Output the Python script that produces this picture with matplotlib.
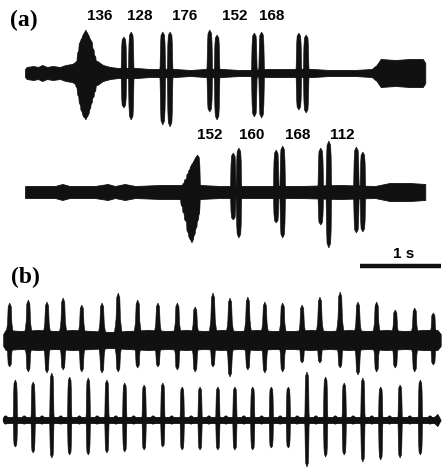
import numpy as np
import matplotlib.pyplot as plt
from matplotlib.patches import Ellipse

# ---- (a) upper trace: pulse times (s), peak amplitudes above / below baseline ----
a1_pulse_t = [0.96, 0.98, 1.00, 1.02, 1.04, 1.06, 1.08, 1.10, 1.12, 1.14, 1.16, 1.18,
              1.53, 1.62, 2.01, 2.10, 2.59, 2.68, 3.14, 3.23, 3.69, 3.78]
a1_pulse_up = [12, 22, 32, 36, 40, 43, 40, 36, 33, 25, 18, 10,
               36, 41, 41, 41, 43, 38, 40, 41, 40, 38]
a1_pulse_down = [15, 24, 33, 40, 45, 47, 44, 38, 32, 26, 20, 12,
                 35, 47, 52, 54, 39, 47, 44, 45, 37, 40]
a1_env_t = [0.31, 0.33, 0.41, 0.47, 0.52, 0.58, 0.65, 0.74, 0.81, 0.89, 0.95,
            1.20, 1.27, 1.36, 1.46, 1.69, 1.85, 1.95, 2.16, 2.35, 2.53, 2.74,
            2.96, 3.09, 3.31, 3.52, 3.64, 3.86, 4.07, 4.38, 4.59, 4.65, 4.70,
            4.88, 5.06, 5.22, 5.25]
a1_env_half = [4, 6, 7, 6, 8, 6, 7, 6, 8, 9, 12,
               12, 8, 6, 5, 5, 4, 4, 4, 3, 4, 4,
               3, 3, 4, 4, 4, 4, 3, 3, 4, 8, 14,
               13, 14, 14, 10]
a1_label_t = [1.23, 1.73, 2.28, 2.90, 3.35]
a1_labels = ["136", "128", "176", "152", "168"]

# ---- (a) lower trace ----
a2_pulse_t = [2.26, 2.28, 2.30, 2.33, 2.35, 2.37, 2.39, 2.41, 2.43, 2.44,
              2.88, 2.95, 3.41, 3.49, 3.96, 4.06, 4.40, 4.48]
a2_pulse_up = [5, 9, 13, 19, 23, 27, 30, 33, 36, 37, 39, 44, 42, 46, 44, 51, 45, 40]
a2_pulse_down = [15, 22, 30, 42, 48, 51, 45, 38, 30, 24, 28, 46, 31, 46, 33, 56, 41, 40]
a2_env_t = [0.31, 0.49, 0.68, 0.77, 0.86, 1.17, 1.33, 1.42, 1.54, 1.67, 1.98,
            2.20, 2.47, 2.72, 3.21, 3.70, 4.20, 4.63, 4.81, 5.06, 5.25]
a2_env_half = [6, 6, 6, 8, 6, 6, 8, 6, 8, 6, 7,
               7, 7, 6, 6, 6, 7, 6, 9, 9, 8]
a2_label_t = [2.59, 3.11, 3.68, 4.22]
a2_labels = ["152", "160", "168", "112"]

# ---- (b) upper trace ----
b1_pulse_t = [0.12, 0.35, 0.58, 0.78, 1.01, 1.26, 1.46, 1.70, 1.95, 2.19, 2.41, 2.63,
              2.84, 3.06, 3.27, 3.49, 3.73, 3.95, 4.20, 4.42, 4.65, 4.88, 5.12, 5.35]
b1_pulse_up = [37, 40, 38, 42, 35, 37, 47, 40, 37, 37, 33, 47,
               42, 43, 38, 37, 35, 43, 48, 38, 38, 30, 32, 27]
b1_pulse_down = [27, 32, 33, 30, 32, 33, 32, 28, 27, 30, 32, 27,
                 37, 30, 33, 32, 23, 23, 28, 35, 32, 28, 32, 25]
b1_env_t = [0.04, 0.07, 0.25, 0.47, 0.68, 0.90, 1.13, 1.36, 1.58, 1.83, 2.07, 2.30,
            2.52, 2.74, 2.95, 3.17, 3.38, 3.61, 3.84, 4.07, 4.31, 4.54, 4.77, 5.00,
            5.24, 5.40, 5.44]
b1_env_half = [6, 10, 9, 10, 9, 10, 9, 8, 9, 10, 9, 10,
               9, 10, 9, 10, 9, 9, 10, 9, 10, 9, 10, 9,
               10, 10, 6]

# ---- (b) lower trace ----
b2_pulse_t = [0.19, 0.41, 0.64, 0.86, 1.09, 1.32, 1.54, 1.78, 2.01, 2.25, 2.47, 2.69,
              2.90, 3.12, 3.35, 3.56, 3.79, 4.02, 4.25, 4.48, 4.70, 4.94, 5.19]
b2_pulse_up = [40, 38, 47, 43, 42, 40, 37, 35, 37, 33, 33, 33,
               33, 33, 33, 33, 48, 43, 37, 42, 33, 35, 40]
b2_pulse_down = [27, 33, 38, 35, 35, 33, 32, 30, 27, 30, 30, 30,
                 30, 30, 28, 28, 47, 37, 35, 42, 40, 38, 35]
b2_bead_t = [0.07, 0.30, 0.52, 0.75, 0.98, 1.20, 1.43, 1.65, 1.89, 2.12, 2.36, 2.58,
             2.79, 3.01, 3.23, 3.46, 3.67, 3.90, 4.14, 4.36, 4.59, 4.81, 5.06, 5.31]
b2_env_t = [0.04, 0.08, 5.36, 5.40, 5.44]
b2_env_half = [0, 3, 3, 6, 0]

INK = "#111111"
FIG_W, FIG_H = 443, 468          # pixels
T_MAX = 443 / 81                 # figure width in seconds (81 px per second)
HALF = 60                        # half-height of each trace strip (amplitude units)

# pulse outline: relative half-width vs relative height
COLUMN = (np.array([1.0, 0.85, 0.7, 0.55, 0.0]), np.array([0.0, 0.15, 0.7, 0.92, 1.0]))
SHOULDER = (np.array([1.0, 0.6, 0.45, 0.32, 0.0]), np.array([0.0, 0.3, 0.45, 0.9, 1.0]))


def trace_axes(fig, base_px):
    ax = fig.add_axes([0, 1 - (base_px + HALF) / FIG_H, 1, 2 * HALF / FIG_H])
    ax.set_xlim(0, T_MAX)
    ax.set_ylim(-HALF, HALF)
    ax.axis("off")
    ax.patch.set_alpha(0)
    return ax


def draw_band(ax, t, half):
    t = np.asarray(t)
    half = np.asarray(half)
    ax.fill_between(t, -half, half, color=INK, lw=0.6, edgecolor=INK)


def draw_pulses(ax, t, up, down, w, shape=COLUMN):
    rx, ry = shape
    fx = np.concatenate([-rx, rx[-2::-1]])
    fy = np.concatenate([ry, ry[-2::-1]])
    for ti, u, d in zip(t, up, down):
        xs = np.concatenate([ti + w * fx, ti - w * fx])
        ys = np.concatenate([u * fy, -d * fy])
        ax.fill(xs, ys, color=INK, lw=0.4, edgecolor=INK)


def draw_labels(ax, t, labels, y):
    for ti, s in zip(t, labels):
        ax.text(ti, y, s, ha="center", va="center", fontsize=11,
                fontweight="bold", family="Liberation Sans", clip_on=False)


fig = plt.figure(figsize=(FIG_W / 100, FIG_H / 100), dpi=100)

ax1 = trace_axes(fig, 73)
draw_band(ax1, a1_env_t, a1_env_half)
draw_pulses(ax1, a1_pulse_t, a1_pulse_up, a1_pulse_down, 0.04)
draw_labels(ax1, a1_label_t, a1_labels, 57)

ax2 = trace_axes(fig, 192)
draw_band(ax2, a2_env_t, a2_env_half)
draw_pulses(ax2, a2_pulse_t, a2_pulse_up, a2_pulse_down, 0.04)
draw_labels(ax2, a2_label_t, a2_labels, 57)

# 1 s scale bar
ax2.plot([T_MAX - 1.02, T_MAX - 0.02], [-74, -74], color=INK, lw=3.2,
         solid_capstyle="butt", clip_on=False)
ax2.text(T_MAX - 0.48, -62, "1 s", ha="center", va="center", fontsize=11,
         fontweight="bold", family="Liberation Sans", clip_on=False)

ax3 = trace_axes(fig, 340)
draw_band(ax3, b1_env_t, b1_env_half)
draw_pulses(ax3, b1_pulse_t, b1_pulse_up, b1_pulse_down, 0.06, SHOULDER)

ax4 = trace_axes(fig, 420)
draw_band(ax4, b2_env_t, b2_env_half)
for tb in b2_bead_t:
    ax4.add_patch(Ellipse((tb, 0), 0.07, 9, color=INK, lw=0))
draw_pulses(ax4, b2_pulse_t, b2_pulse_up, b2_pulse_down, 0.03)

fig.text(24 / FIG_W, 1 - 20 / FIG_H, "(a)", ha="center", va="center",
         fontsize=17, fontweight="bold", family="Liberation Serif")
fig.text(25 / FIG_W, 1 - 277 / FIG_H, "(b)", ha="center", va="center",
         fontsize=17, fontweight="bold", family="Liberation Serif")

fig.savefig("out.png", dpi=100)
